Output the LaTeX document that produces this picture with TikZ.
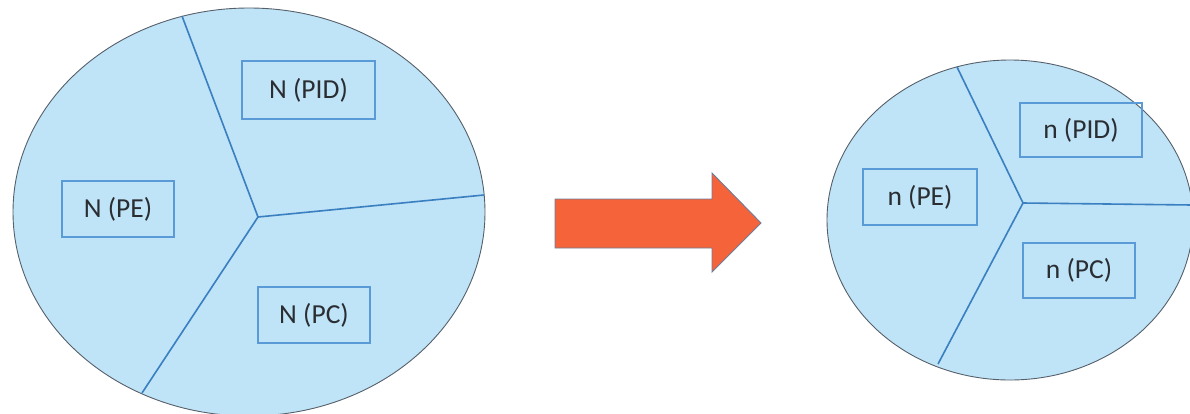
\documentclass[tikz,border=0pt]{standalone}
\usepackage{fontspec}
\setmainfont{Carlito}
\usetikzlibrary{shapes.geometric}
\definecolor{cellfill}{HTML}{BFE3F7}
\definecolor{cellline}{HTML}{56606A}
\definecolor{divline}{HTML}{3A7FC0}
\definecolor{boxline}{HTML}{5A9AD6}
\definecolor{txt}{HTML}{2A2E33}
\definecolor{arrfill}{HTML}{F5633A}
\definecolor{arrline}{HTML}{6F7C98}
\tikzset{
  cell/.style={ellipse, draw=cellline, line width=0.9pt, fill=cellfill, inner sep=0pt},
  divider/.style={draw=divline, line width=1.6pt},
  labelbox/.style={draw=boxline, line width=1.4pt, text=txt, inner sep=0pt, font=\fontsize{27.5}{32}\selectfont},
}
\begin{document}
\begin{tikzpicture}[x=1pt,y=-1pt]
\useasboundingbox (0,0) rectangle (1190,413);
% left ellipse
\node[cell, minimum width=472pt, minimum height=408pt] (L) at (249,212) {};
\coordinate (Lc) at (258,217);
\coordinate (Lt) at (182,16);
\coordinate (Lr) at (484,195);
\coordinate (Lb) at (142,393);
\draw[divider] (Lt) -- (Lc) -- (Lr);
\draw[divider] (Lc) -- (Lb);
\node[labelbox, minimum width=133pt, minimum height=58pt] (PID) at (308.5,90) {N (PID)};
\node[labelbox, minimum width=112pt, minimum height=56pt] (PE) at (118,209) {N (PE)};
\node[labelbox, minimum width=112pt, minimum height=56pt] (PC) at (314,315) {N (PC)};
% arrow
\draw[draw=arrline, line width=0.9pt, fill=arrfill]
  (555,199) -- (712,199) -- (712,173) -- (761,223) -- (712,272) -- (712,248) -- (555,248) -- cycle;
% right ellipse
\node[cell, minimum width=366pt, minimum height=320pt] (R) at (1010,220) {};
\coordinate (Rc) at (1023,203);
\coordinate (Rt) at (957,67);
\coordinate (Rr) at (1192,205);
\coordinate (Rb) at (938,364);
\draw[divider] (Rt) -- (Rc) -- (Rr);
\draw[divider] (Rc) -- (Rb);
\node[labelbox, minimum width=122pt, minimum height=54pt] (pid) at (1081,130) {n (PID)};
\node[labelbox, minimum width=114pt, minimum height=56pt] (pe) at (920,197) {n (PE)};
\node[labelbox, minimum width=112pt, minimum height=55pt] (pc) at (1079,270.5) {n (PC)};
\end{tikzpicture}
\end{document}
